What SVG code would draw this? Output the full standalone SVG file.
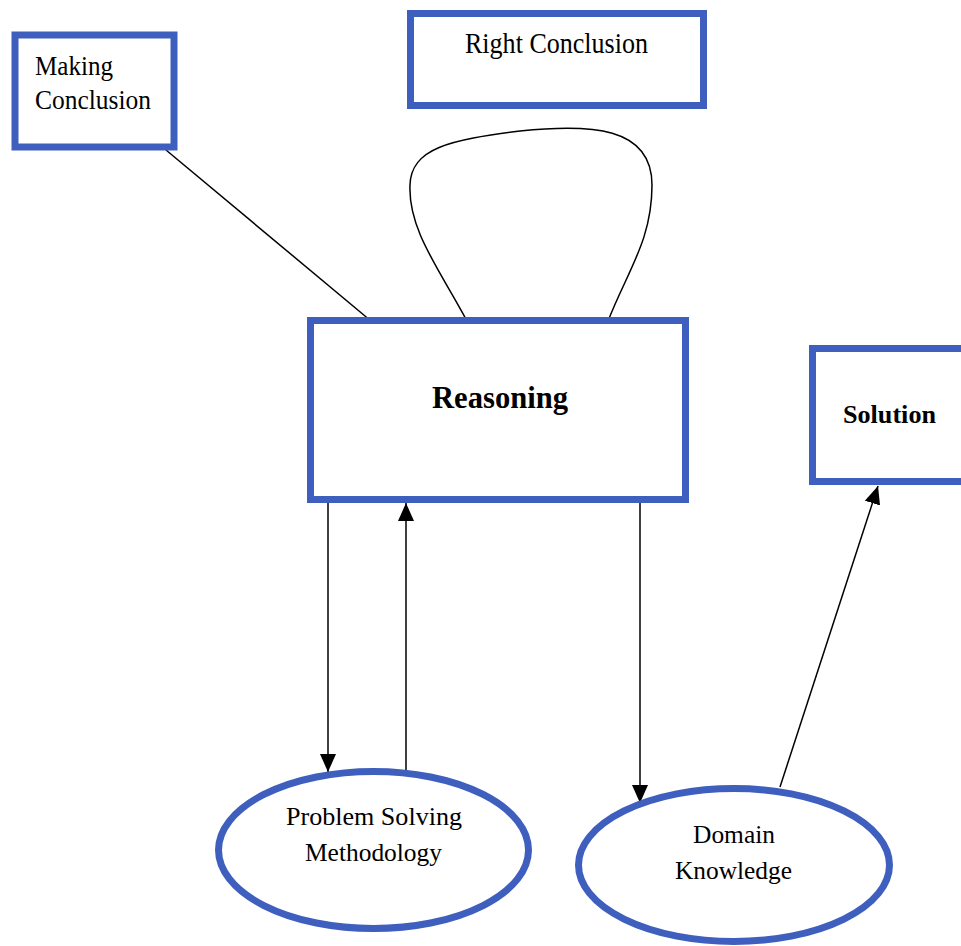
<svg xmlns="http://www.w3.org/2000/svg" width="961" height="946" viewBox="0 0 961 946">
  <style>
    .box { fill: #ffffff; stroke: #3F5FBF; stroke-width: 7; }
    .lbl { font-family: "Liberation Serif", "Times New Roman", serif; fill: #000000; }
    .bold { font-weight: bold; }
    .conn { fill: none; stroke: #000000; stroke-width: 1.5; }
  </style>
  <defs>
    <marker id="arrow" markerUnits="userSpaceOnUse" markerWidth="18" markerHeight="22" viewBox="0 0 18 22" refX="18" refY="9" orient="auto">
      <path d="M0,1 L18,9 L0,17 Z" fill="#000000"/>
    </marker>
  </defs>
  <rect width="961" height="946" fill="#ffffff"/>

  <g id="connectors">
    <line class="conn" x1="166" y1="150" x2="371" y2="321"/>
    <path class="conn" d="M467,321 C440,270 408,230 410,185 C411,148 450,140 520,131 C590,124 652,126 652,185 C652,240 628,270 608,321"/>
    <line class="conn" x1="328" y1="503" x2="328" y2="772" marker-end="url(#arrow)"/>
    <line class="conn" x1="406" y1="772" x2="406" y2="503" marker-end="url(#arrow)"/>
    <line class="conn" x1="640" y1="503" x2="640" y2="803" marker-end="url(#arrow)"/>
    <line class="conn" x1="780" y1="787" x2="878" y2="486" marker-end="url(#arrow)"/>
  </g>

  <g id="making-conclusion">
    <rect class="box" x="15" y="35" width="159" height="112"/>
    <text class="lbl" x="35" y="75" font-size="27" textLength="78" lengthAdjust="spacingAndGlyphs">Making</text>
    <text class="lbl" x="35" y="109" font-size="27" textLength="116" lengthAdjust="spacingAndGlyphs">Conclusion</text>
  </g>

  <g id="right-conclusion">
    <rect class="box" x="410.5" y="13.5" width="293" height="92"/>
    <text class="lbl" x="465" y="53" font-size="29" textLength="183" lengthAdjust="spacingAndGlyphs">Right Conclusion</text>
  </g>

  <g id="reasoning">
    <rect class="box" x="310.5" y="320.5" width="375" height="179"/>
    <text class="lbl bold" x="432" y="408" font-size="32" textLength="136" lengthAdjust="spacingAndGlyphs">Reasoning</text>
  </g>

  <g id="solution">
    <rect class="box" x="812.5" y="348.5" width="160" height="133"/>
    <text class="lbl bold" x="843" y="423" font-size="26" textLength="93" lengthAdjust="spacingAndGlyphs">Solution</text>
  </g>

  <g id="problem-solving-methodology">
    <ellipse class="box" cx="373.5" cy="850" rx="155" ry="78.5"/>
    <text class="lbl" x="286" y="825" font-size="26" textLength="176" lengthAdjust="spacingAndGlyphs">Problem Solving</text>
    <text class="lbl" x="305" y="861" font-size="26" textLength="137" lengthAdjust="spacingAndGlyphs">Methodology</text>
  </g>

  <g id="domain-knowledge">
    <ellipse class="box" cx="734" cy="865" rx="155.5" ry="76.5"/>
    <text class="lbl" x="693" y="843" font-size="26" textLength="82" lengthAdjust="spacingAndGlyphs">Domain</text>
    <text class="lbl" x="675" y="879" font-size="26" textLength="117" lengthAdjust="spacingAndGlyphs">Knowledge</text>
  </g>
</svg>
